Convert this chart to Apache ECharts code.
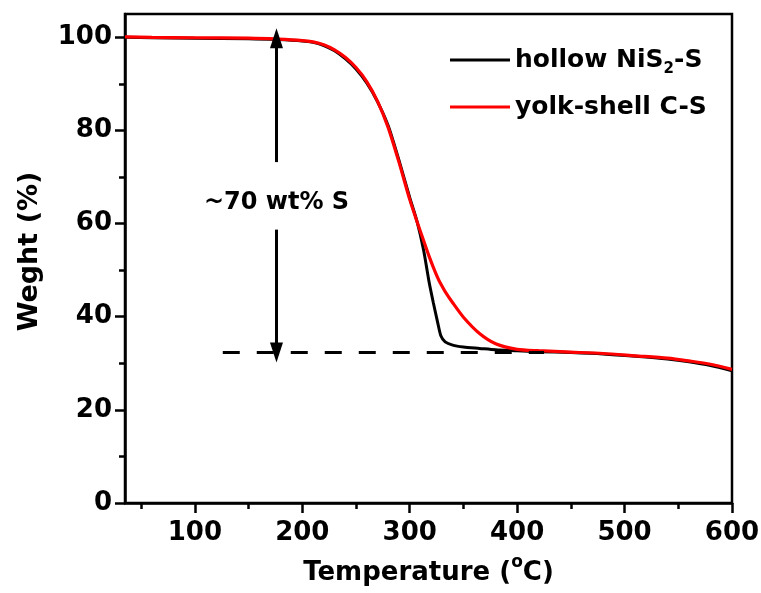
<!DOCTYPE html>
<html>
<head>
<meta charset="utf-8">
<script src="https://cdn.jsdelivr.net/npm/echarts@6/dist/echarts.min.js"></script>
<style>
html, body { margin: 0; padding: 0; background: #fff; }
#main { width: 761px; height: 593px; }
</style>
</head>
<body>
<div id="main"></div>
<script>
// TGA data (temperature in °C, weight in %)
var temps = [35, 60, 100, 150, 177, 200, 210, 220, 230, 240, 250, 260, 270, 280, 290, 300, 307, 313, 318, 322, 326, 329, 333, 340, 350, 365, 380, 400, 420, 450, 480, 510, 540, 560, 580, 600];
var hollowNiS2 = [100.0, 99.9, 99.8, 99.7, 99.5, 99.2, 98.9, 98.2, 97.1, 95.4, 93.2, 90.2, 86.2, 81.0, 73.6, 65.6, 60.3, 54.2, 47.5, 43.0, 38.8, 35.9, 34.6, 33.9, 33.5, 33.2, 32.9, 32.7, 32.5, 32.3, 32.0, 31.5, 30.9, 30.3, 29.5, 28.4];
var yolkShellC = [100.1, 100.0, 99.9, 99.8, 99.6, 99.3, 99.0, 98.4, 97.3, 95.7, 93.5, 90.5, 86.3, 80.6, 73.2, 65.2, 60.3, 56.3, 53.0, 50.6, 48.4, 47.0, 45.4, 43.0, 39.9, 36.4, 34.2, 33.0, 32.7, 32.4, 32.1, 31.6, 31.1, 30.5, 29.8, 28.7];

var xTicks = [100, 200, 300, 400, 500, 600];
var xMinorTicks = [50, 150, 250, 350, 450, 550];
var yTicks = [0, 20, 40, 60, 80, 100];
var yMinorTicks = [10, 30, 50, 70, 90];

// annotation: residue level and ~70 wt% arrow
var residue = 32.3;
var dashFrom = 126, dashTo = 425;
var arrowT = 176, arrowTop = 99.8, gapTop = 73.2, gapBottom = 58.7, labelY = 64.4;

var font = 'DejaVu Sans';
var chart = echarts.init(document.getElementById('main'));

function pairs(vals) {
    return temps.map(function (t, i) { return [t, vals[i]]; });
}

var tickLine = { color: '#000', width: 2.5 };

chart.setOption({
    animation: false,
    grid: {
        left: 125, right: 29, top: 14, bottom: 90,
        outerBoundsMode: 'none',
        show: true, borderColor: '#000', borderWidth: 2.5
    },
    legend: {
        orient: 'vertical',
        left: 445, top: 38,
        icon: 'rect',
        itemWidth: 60, itemHeight: 3, itemGap: 13,
        formatter: function (n) {
            return n === 'hollow NiS2-S' ? 'hollow NiS{sub|2}-S' : n;
        },
        textStyle: {
            fontSize: 25, fontWeight: 'bold', color: '#000', fontFamily: font,
            lineHeight: 34,
            rich: {
                sub: { fontSize: 15, fontWeight: 'bold', color: '#000', fontFamily: font, lineHeight: 15, verticalAlign: 'bottom' }
            }
        }
    },
    xAxis: [{
        type: 'value', min: 35, max: 600, position: 'bottom',
        name: 'Temperature ({sup|o}C)',
        nameLocation: 'middle', nameGap: 51,
        nameTextStyle: {
            fontSize: 26, fontWeight: 'bold', color: '#000', fontFamily: font,
            lineHeight: 38,
            rich: {
                sup: { fontSize: 17, fontWeight: 'bold', color: '#000', fontFamily: font, lineHeight: 17, verticalAlign: 'top' }
            }
        },
        axisLine: { show: true, onZero: false, lineStyle: tickLine },
        axisTick: { show: true, customValues: xTicks, length: 10, lineStyle: tickLine },
        axisLabel: { customValues: xTicks, fontSize: 26, fontWeight: 'bold', color: '#000', fontFamily: font, margin: 17 },
        splitLine: { show: false }
    }, {
        type: 'value', min: 35, max: 600, position: 'bottom',
        axisLine: { show: false },
        axisTick: { show: true, customValues: xMinorTicks, length: 6, lineStyle: tickLine },
        axisLabel: { show: false },
        splitLine: { show: false }
    }],
    yAxis: [{
        type: 'value', min: 0, max: 105, position: 'left',
        name: 'Weght (%)',
        nameLocation: 'middle', nameGap: 82,
        nameTextStyle: { fontSize: 27, fontWeight: 'bold', color: '#000', fontFamily: font, padding: [0, 0, 0, 14] },
        axisLine: { show: true, onZero: false, lineStyle: tickLine },
        axisTick: { show: true, customValues: yTicks, length: 10, lineStyle: tickLine },
        axisLabel: { customValues: yTicks, fontSize: 26, fontWeight: 'bold', color: '#000', fontFamily: font, margin: 13 },
        splitLine: { show: false }
    }, {
        type: 'value', min: 0, max: 105, position: 'left',
        axisLine: { show: false },
        axisTick: { show: true, customValues: yMinorTicks, length: 6, lineStyle: tickLine },
        axisLabel: { show: false },
        splitLine: { show: false }
    }],
    series: [{
        name: 'hollow NiS2-S',
        type: 'line',
        data: pairs(hollowNiS2),
        showSymbol: false, symbol: 'none',
        smooth: 0.25,
        lineStyle: { color: '#000', width: 3 },
        itemStyle: { color: '#000' },
        z: 2,
        markLine: {
            silent: true,
            label: { show: false },
            symbolSize: [13, 20],
            lineStyle: { color: '#000', width: 3, type: 'solid' },
            data: [
                [{ coord: [dashFrom, residue], symbol: 'none', lineStyle: { type: [17, 17], width: 3, color: '#000' } },
                 { coord: [dashTo, residue], symbol: 'none' }],
                [{ coord: [arrowT, gapTop], symbol: 'none' },
                 { coord: [arrowT, arrowTop], symbol: 'triangle' }],
                [{ coord: [arrowT, gapBottom], symbol: 'none' },
                 { coord: [arrowT, residue], symbol: 'triangle' }]
            ]
        },
        markPoint: {
            silent: true,
            symbol: 'circle', symbolSize: 0,
            itemStyle: { color: 'transparent' },
            label: {
                show: true, position: 'inside',
                formatter: '~70 wt% S',
                fontSize: 24, fontWeight: 'bold', color: '#000', fontFamily: font
            },
            data: [{ coord: [arrowT, labelY] }]
        }
    }, {
        name: 'yolk-shell C-S',
        type: 'line',
        data: pairs(yolkShellC),
        showSymbol: false, symbol: 'none',
        smooth: 0.25,
        lineStyle: { color: '#ff0000', width: 3.2 },
        itemStyle: { color: '#ff0000' },
        z: 3
    }]
});
</script>
</body>
</html>
